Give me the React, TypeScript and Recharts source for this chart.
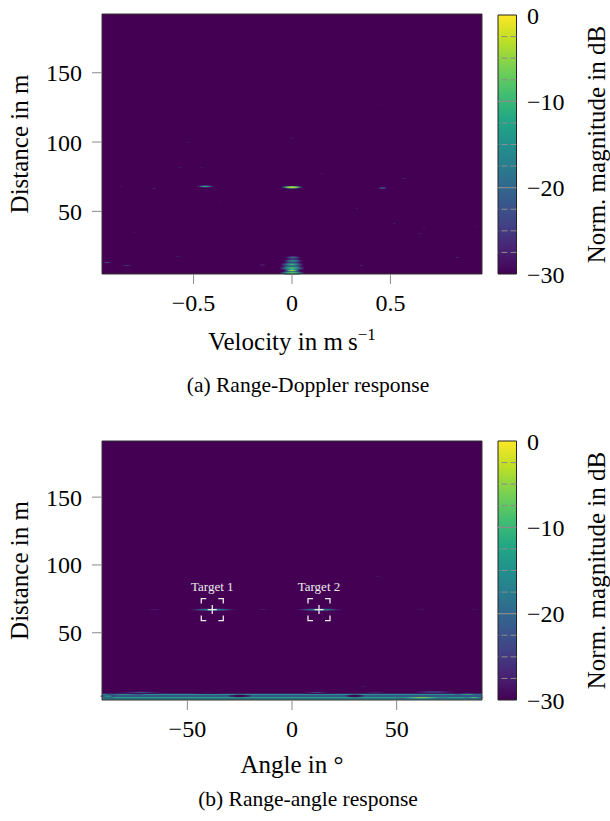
import React from "react";
import { ComposedChart, XAxis, YAxis, ReferenceArea, ReferenceLine, Scatter, Label } from "recharts";

const FONT = '"Liberation Serif", "Times New Roman", Times, serif';
const BG = "#440154";
const TICK = "#8a8a8a";

const VIRIDIS = ["#440154", "#482475", "#414487", "#355f8d", "#2a788e", "#21918c", "#22a884", "#44bf70", "#7ad151", "#bddf26", "#fde725"];

type Blob = { x: number; y: number; w: number; h: number; db: number };
type Row = { x0: number; x1: number; y0: number; y1: number; db: number };
type Target = { angle: number; distance: number; name: string };

// axes
const velocityDomain = [-0.965, 0.965];
const velocityTicks = [-0.5, 0, 0.5];
const rdDistanceDomain = [4.8, 192.4];
const angleDomain = [-90.8, 90.8];
const angleTicks = [-50, 0, 50];
const raDistanceDomain = [0.4, 191.4];
const distanceTicks = [50, 100, 150];
const dbDomain = [-30, 0];
const dbTicks = [-30, -20, -10, 0];
const dbMinorTicks = [-27.5, -25, -22.5, -17.5, -15, -12.5, -7.5, -5, -2.5];
const dbMajorLines = [-20, -10];

// range-Doppler: velocity (m/s), distance (m), spread, magnitude (dB)
const rdPeaks: Blob[] = [
  { x: 0.0, y: 67.4, w: 0.12, h: 2.6, db: 0 },
  { x: -0.44, y: 68.0, w: 0.1, h: 2.2, db: -11 },
  { x: 0.46, y: 66.8, w: 0.07, h: 2.0, db: -18 },
];
const rdNearRange: Blob[] = [
  { x: 0.005, y: 16.6, w: 0.11, h: 3.6, db: -18 },
  { x: 0.005, y: 14.2, w: 0.12, h: 4.0, db: -14 },
  { x: 0.0, y: 11.6, w: 0.13, h: 4.4, db: -10 },
  { x: 0.0, y: 9.0, w: 0.14, h: 4.6, db: -8 },
  { x: 0.0, y: 7.4, w: 0.08, h: 2.6, db: -3 },
  { x: 0.0, y: 5.6, w: 0.14, h: 3.4, db: -6 },
  { x: 0.0, y: 31.4, w: 0.1, h: 1.2, db: -23 },
];
const rdSpeckles: Blob[] = [
  { x: 0.0, y: 102.7, w: 0.05, h: 1.2, db: -26 },
  { x: 0.44, y: 127.2, w: 0.04, h: 1.0, db: -28 },
  { x: -0.53, y: 99.8, w: 0.05, h: 1.2, db: -27 },
  { x: -0.84, y: 89.4, w: 0.04, h: 1.0, db: -28 },
  { x: 0.25, y: 93.0, w: 0.04, h: 1.0, db: -28 },
  { x: 0.72, y: 87.0, w: 0.05, h: 1.0, db: -27 },
  { x: -0.57, y: 81.5, w: 0.06, h: 1.2, db: -25 },
  { x: -0.46, y: 81.5, w: 0.05, h: 1.2, db: -26 },
  { x: -0.19, y: 78.6, w: 0.04, h: 1.0, db: -27 },
  { x: 0.15, y: 77.4, w: 0.04, h: 1.0, db: -27 },
  { x: 0.38, y: 79.0, w: 0.04, h: 1.0, db: -27 },
  { x: 0.57, y: 73.8, w: 0.06, h: 1.2, db: -25 },
  { x: -0.87, y: 67.8, w: 0.05, h: 1.2, db: -26 },
  { x: -0.7, y: 66.6, w: 0.06, h: 1.2, db: -25 },
  { x: -0.57, y: 65.4, w: 0.07, h: 1.4, db: -24 },
  { x: -0.14, y: 65.4, w: 0.06, h: 1.2, db: -24 },
  { x: 0.15, y: 70.6, w: 0.04, h: 1.0, db: -27 },
  { x: 0.84, y: 65.4, w: 0.06, h: 1.2, db: -26 },
  { x: -0.67, y: 55.8, w: 0.05, h: 1.0, db: -27 },
  { x: -0.36, y: 57.0, w: 0.04, h: 1.0, db: -27 },
  { x: 0.33, y: 52.0, w: 0.04, h: 1.0, db: -27 },
  { x: -0.82, y: 46.6, w: 0.05, h: 1.0, db: -26 },
  { x: -0.06, y: 42.5, w: 0.05, h: 1.0, db: -26 },
  { x: 0.52, y: 41.3, w: 0.04, h: 1.0, db: -27 },
  { x: 0.67, y: 38.2, w: 0.05, h: 1.2, db: -26 },
  { x: 0.93, y: 38.9, w: 0.05, h: 1.2, db: -25 },
  { x: -0.92, y: 31.7, w: 0.04, h: 1.0, db: -27 },
  { x: -0.8, y: 34.6, w: 0.05, h: 1.0, db: -27 },
  { x: -0.27, y: 34.3, w: 0.05, h: 1.2, db: -24 },
  { x: 0.18, y: 36.0, w: 0.04, h: 1.0, db: -27 },
  { x: 0.47, y: 28.0, w: 0.04, h: 1.0, db: -27 },
  { x: 0.65, y: 34.0, w: 0.04, h: 1.0, db: -27 },
  { x: -0.45, y: 23.5, w: 0.06, h: 1.2, db: -23 },
  { x: -0.79, y: 25.7, w: 0.05, h: 1.2, db: -25 },
  { x: -0.58, y: 17.3, w: 0.05, h: 1.2, db: -25 },
  { x: -0.94, y: 12.9, w: 0.06, h: 1.6, db: -19 },
  { x: -0.84, y: 10.8, w: 0.07, h: 1.4, db: -21 },
  { x: -0.15, y: 11.3, w: 0.06, h: 1.4, db: -20 },
  { x: 0.64, y: 15.6, w: 0.05, h: 1.2, db: -23 },
  { x: 0.84, y: 16.6, w: 0.05, h: 1.2, db: -23 },
  { x: 0.35, y: 11.0, w: 0.05, h: 1.0, db: -25 },
  { x: -0.1, y: 5.6, w: 0.05, h: 1.2, db: -23 },
];

// range-angle: angle (deg), distance (m)
const raRows: Row[] = [
  { x0: -91, x1: 91, y0: 0.3, y1: 1.5, db: -18 },
  { x0: -91, x1: 91, y0: 1.5, y1: 2.7, db: -13 },
  { x0: -91, x1: 91, y0: 2.7, y1: 4.1, db: -22 },
  { x0: -91, x1: 91, y0: 4.1, y1: 5.0, db: -15 },
];
const raClutter: Blob[] = [
  { x: 62, y: 2.1, w: 26, h: 2.0, db: -4 },
  { x: 87, y: 2.2, w: 10, h: 2.0, db: -8 },
  { x: 84, y: 4.6, w: 14, h: 1.6, db: -10 },
  { x: -88, y: 3.2, w: 8, h: 3.0, db: -12 },
  { x: -80, y: 4.6, w: 20, h: 1.4, db: -12 },
  { x: -25, y: 3.4, w: 12, h: 2.6, db: -30 },
  { x: 30, y: 3.4, w: 10, h: 2.6, db: -30 },
  { x: -72, y: 6.0, w: 30, h: 2.2, db: -21 },
  { x: 12, y: 5.8, w: 22, h: 2.0, db: -22 },
  { x: 40, y: 6.2, w: 24, h: 2.0, db: -23 },
  { x: 68, y: 6.3, w: 28, h: 2.2, db: -20 },
  { x: -40, y: 5.6, w: 20, h: 1.8, db: -24 },
  { x: 34, y: 10.5, w: 10, h: 1.2, db: -27 },
];
const raSidelobes: Blob[] = [
  { x: -38, y: 67.0, w: 26, h: 2.6, db: -13 },
  { x: 13, y: 67.0, w: 26, h: 2.6, db: -13 },
  { x: -66, y: 67.0, w: 14, h: 1.4, db: -26 },
  { x: -14, y: 67.0, w: 12, h: 1.4, db: -26 },
  { x: 62, y: 67.0, w: 10, h: 1.2, db: -27 },
  { x: 87, y: 67.0, w: 8, h: 1.2, db: -27 },
  { x: 41, y: 91.5, w: 6, h: 1.0, db: -28 },
];
const raTargets: Target[] = [
  { angle: -38.1, distance: 67.1, name: "Target 1" },
  { angle: 12.9, distance: 67.1, name: "Target 2" },
];

function viridis(db: number): string {
  const n = VIRIDIS.length - 1;
  const t = Math.min(1, Math.max(0, (db + 30) / 30)) * n;
  const i = Math.min(n - 1, Math.floor(t));
  const f = t - i;
  const a = parseInt(VIRIDIS[i].slice(1), 16);
  const b = parseInt(VIRIDIS[i + 1].slice(1), 16);
  const ch = (s: number) => Math.round(((a >> s) & 255) * (1 - f) + ((b >> s) & 255) * f);
  return `rgb(${ch(16)},${ch(8)},${ch(0)})`;
}

const fmt = (v: number) => (v < 0 ? `\u2212${Math.abs(v)}` : `${v}`);

function blobShape(id: string, db: number) {
  return (p: any) => {
    const { x, y, width, height } = p;
    return (
      <g>
        <defs>
          <radialGradient id={id} cx="50%" cy="50%" r="50%">
            <stop offset="0%" stopColor={viridis(db)} />
            <stop offset="45%" stopColor={viridis(db - 7)} stopOpacity={0.9} />
            <stop offset="80%" stopColor={viridis(db - 15)} stopOpacity={0.45} />
            <stop offset="100%" stopColor={BG} stopOpacity={0} />
          </radialGradient>
        </defs>
        <ellipse cx={x + width / 2} cy={y + height / 2} rx={Math.abs(width) / 2} ry={Math.abs(height) / 2} fill={`url(#${id})`} />
      </g>
    );
  };
}

const TargetMarker = (p: any) => {
  const { cx, cy, payload } = p;
  const s = 11;
  const a = 5;
  const c = 4.5;
  const col = "#ececec";
  const brackets =
    `M${cx - s},${cy - s + a}V${cy - s}H${cx - s + a}` +
    `M${cx + s - a},${cy - s}H${cx + s}V${cy - s + a}` +
    `M${cx + s},${cy + s - a}V${cy + s}H${cx + s - a}` +
    `M${cx - s + a},${cy + s}H${cx - s}V${cy + s - a}`;
  return (
    <g>
      <path d={brackets} fill="none" stroke={col} strokeWidth={1.3} />
      <path d={`M${cx - c},${cy}H${cx + c}M${cx},${cy - c}V${cy + c}`} stroke={col} strokeWidth={1.3} />
      <text x={cx} y={cy - 19} textAnchor="middle" fontFamily={FONT} fontSize={13} fill={col}>
        {payload.name}
      </text>
    </g>
  );
};

type PanelProps = {
  id: string;
  top: number;
  height: number;
  plotTop: number;
  plotBottom: number;
  cbTop: number;
  xKey: string;
  xDomain: number[];
  xTicks: number[];
  yDomain: number[];
  rows: Row[];
  blobs: Blob[][];
  targets?: Target[];
  xTitle: React.ReactNode;
  titleOffset: number;
  caption: string;
  captionOffset: number;
};

function Panel(p: PanelProps) {
  const axisTick = { fill: "#000", fontSize: 24, fontFamily: FONT };
  const [x0, x1] = p.xDomain;
  const [y0, y1] = p.yDomain;
  return (
    <>
      <div style={{ position: "absolute", left: 0, top: p.top }}>
        <ComposedChart width={490} height={p.height} margin={{ top: p.plotTop, right: 8, bottom: p.height - p.plotBottom - 60, left: 0 }}>
          <XAxis
            type="number"
            dataKey={p.xKey}
            domain={p.xDomain}
            ticks={p.xTicks}
            interval={0}
            allowDataOverflow
            height={60}
            axisLine={false}
            tickLine={{ stroke: TICK }}
            tickSize={10}
            tickMargin={10}
            tick={axisTick}
            tickFormatter={fmt}
          >
            <Label
              content={(lp: any) => {
                const vb = lp.viewBox || { x: 102, y: p.plotBottom, width: 380 };
                const cx = vb.x + vb.width / 2;
                return (
                  <g fontFamily={FONT} fill="#000">
                    <text x={cx} y={vb.y + p.titleOffset} textAnchor="middle" fontSize={25}>
                      {p.xTitle}
                    </text>
                    <text x={308} y={vb.y + p.captionOffset} textAnchor="middle" fontSize={21.5}>
                      {p.caption}
                    </text>
                  </g>
                );
              }}
            />
          </XAxis>
          <YAxis
            type="number"
            dataKey="distance"
            domain={p.yDomain}
            ticks={distanceTicks}
            interval={0}
            allowDataOverflow
            width={102}
            axisLine={false}
            tickLine={{ stroke: TICK }}
            tickSize={10}
            tickMargin={10}
            tick={axisTick}
            tickFormatter={fmt}
          >
            <Label
              content={(lp: any) => {
                const vb = lp.viewBox || { x: 0, y: p.plotTop, height: p.plotBottom - p.plotTop };
                const tx = vb.x + 28;
                const ty = vb.y + vb.height / 2;
                return (
                  <text x={tx} y={ty} transform={`rotate(-90, ${tx}, ${ty})`} textAnchor="middle" fontFamily={FONT} fontSize={25} fill="#000">
                    Distance in m
                  </text>
                );
              }}
            />
          </YAxis>
          <ReferenceArea x1={x0} x2={x1} y1={y0} y2={y1} fill={BG} fillOpacity={1} stroke="none" ifOverflow="hidden" />
          {p.rows.map((r, i) => (
            <ReferenceArea key={`row-${i}`} x1={r.x0} x2={r.x1} y1={r.y0} y2={r.y1} fill={viridis(r.db)} fillOpacity={1} stroke="none" ifOverflow="hidden" />
          ))}
          {p.blobs.flat().map((b, i) => (
            <ReferenceArea
              key={`blob-${i}`}
              x1={b.x - b.w / 2}
              x2={b.x + b.w / 2}
              y1={b.y - b.h / 2}
              y2={b.y + b.h / 2}
              ifOverflow="hidden"
              shape={blobShape(`${p.id}-blob-${i}`, b.db)}
            />
          ))}
          <ReferenceArea x1={x0} x2={x1} y1={y0} y2={y1} fill="none" stroke="#333" strokeWidth={1} ifOverflow="visible" />
          {p.targets && <Scatter data={p.targets} dataKey="distance" shape={TargetMarker} isAnimationActive={false} />}
        </ComposedChart>
      </div>
      <div style={{ position: "absolute", left: 490, top: p.top }}>
        <ComposedChart width={120} height={p.plotBottom + 20} margin={{ top: p.cbTop, right: 0, bottom: 20, left: 8 }}>
          <defs>
            <linearGradient id={`cb-${p.id}`} x1="0" y1="1" x2="0" y2="0">
              {VIRIDIS.map((c, i) => (
                <stop key={c} offset={`${(i / (VIRIDIS.length - 1)) * 100}%`} stopColor={c} />
              ))}
            </linearGradient>
          </defs>
          <XAxis type="number" dataKey="u" domain={[0, 1]} allowDataOverflow hide />
          <YAxis
            type="number"
            dataKey="db"
            orientation="right"
            domain={dbDomain}
            ticks={dbTicks}
            interval={0}
            allowDataOverflow
            width={93.5}
            axisLine={false}
            tickLine={false}
            tickSize={0}
            tickMargin={10.5}
            tick={axisTick}
            tickFormatter={fmt}
          >
            <Label
              content={(lp: any) => {
                const vb = lp.viewBox || { x: 26.5, y: p.cbTop, height: p.plotBottom - p.cbTop };
                const tx = vb.x + 88.5;
                const ty = vb.y + vb.height / 2;
                return (
                  <text x={tx} y={ty} transform={`rotate(-90, ${tx}, ${ty})`} textAnchor="middle" fontFamily={FONT} fontSize={25} fill="#000">
                    Norm. magnitude in dB
                  </text>
                );
              }}
            />
          </YAxis>
          <ReferenceArea x1={0} x2={1} y1={-30} y2={0} fill={`url(#cb-${p.id})`} fillOpacity={1} stroke="none" ifOverflow="visible" />
          {dbMinorTicks.map((v) => (
            <ReferenceLine key={`mn-${v}`} y={v} stroke="#8c8c8c" strokeWidth={1} strokeDasharray="6 3" ifOverflow="visible" />
          ))}
          {dbMajorLines.map((v) => (
            <ReferenceLine key={`mj-${v}`} y={v} stroke="#8c8c8c" strokeWidth={1.2} ifOverflow="visible" />
          ))}
          <ReferenceArea x1={0} x2={1} y1={-30} y2={0} fill="none" stroke="#222" strokeWidth={1} ifOverflow="visible" />
        </ComposedChart>
      </div>
    </>
  );
}

export default function App() {
  return (
    <div style={{ position: "absolute", left: 0, top: 0, width: 610, height: 821, background: "#fff" }}>
      <Panel
        id="rd"
        top={0}
        height={410}
        plotTop={14}
        plotBottom={274}
        cbTop={15}
        xKey="velocity"
        xDomain={velocityDomain}
        xTicks={velocityTicks}
        yDomain={rdDistanceDomain}
        rows={[]}
        blobs={[rdSpeckles, rdNearRange, rdPeaks]}
        xTitle={
          <>
            Velocity in m
            <tspan dx={5}>s</tspan>
            <tspan dy={-10} fontSize={17}>
              {"\u22121"}
            </tspan>
          </>
        }
        titleOffset={76}
        caption="(a) Range-Doppler response"
        captionOffset={118}
      />
      <Panel
        id="ra"
        top={427}
        height={394}
        plotTop={14}
        plotBottom={273}
        cbTop={14}
        xKey="angle"
        xDomain={angleDomain}
        xTicks={angleTicks}
        yDomain={raDistanceDomain}
        rows={raRows}
        blobs={[raClutter, raSidelobes]}
        targets={raTargets}
        xTitle={<>Angle in °</>}
        titleOffset={73}
        caption="(b) Range-angle response"
        captionOffset={106}
      />
    </div>
  );
}
